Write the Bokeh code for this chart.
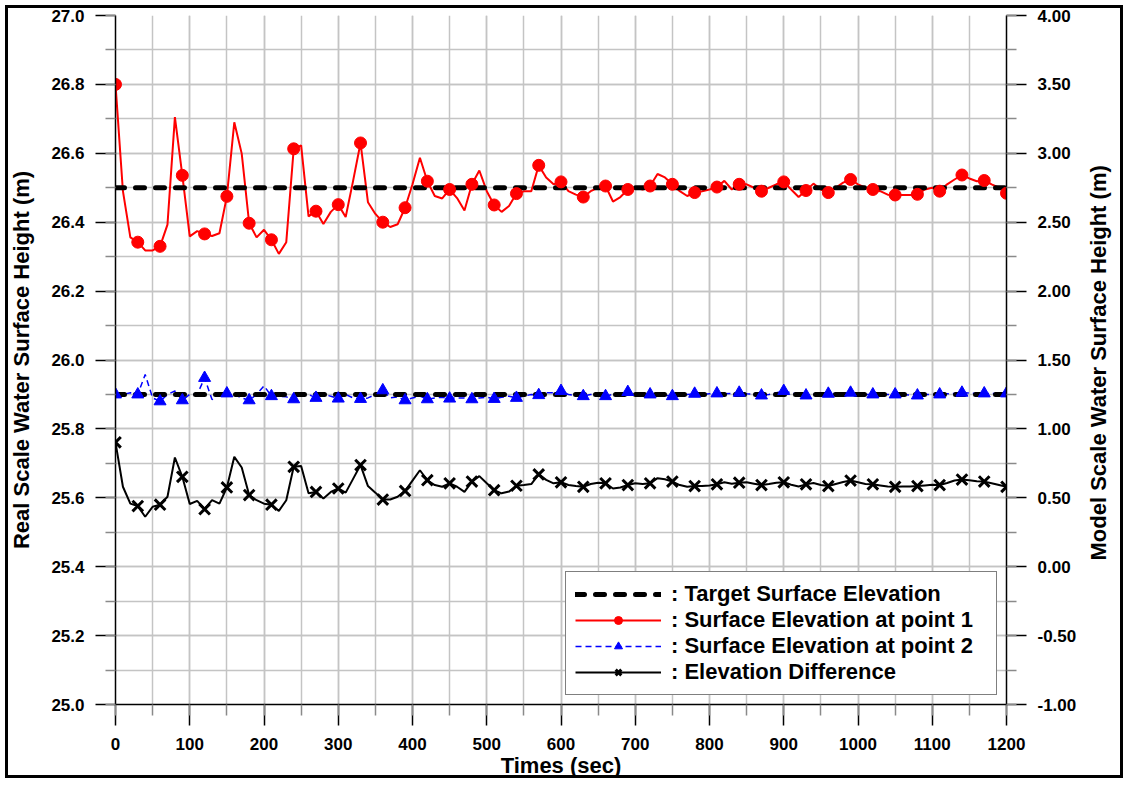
from math import pi

from bokeh.embed import file_html
from bokeh.models import (FixedTicker, Legend, LegendItem, LinearAxis, NumeralTickFormatter,
                          Range1d, SingleIntervalTicker)
from bokeh.plotting import figure
from bokeh.resources import INLINE

# Sampling every 10 s, symbols every 30 s
times = list(range(0, 1201, 10))
marker_step = 3

# Real-scale surface elevation at point 1 (m)
point1 = [
    26.800, 26.490, 26.356, 26.342, 26.318, 26.318, 26.330, 26.393, 26.705, 26.536,
    26.359, 26.374, 26.366, 26.360, 26.368, 26.475, 26.690, 26.599, 26.397, 26.356,
    26.378, 26.349, 26.308, 26.342, 26.613, 26.623, 26.417, 26.432, 26.395, 26.430,
    26.451, 26.415, 26.520, 26.630, 26.458, 26.424, 26.400, 26.386, 26.394, 26.442,
    26.510, 26.587, 26.519, 26.476, 26.469, 26.495, 26.470, 26.434, 26.510, 26.550,
    26.490, 26.450, 26.430, 26.447, 26.483, 26.490, 26.490, 26.565, 26.530, 26.510,
    26.517, 26.490, 26.480, 26.473, 26.490, 26.500, 26.505, 26.460, 26.473, 26.495,
    26.500, 26.495, 26.505, 26.540, 26.530, 26.510, 26.490, 26.476, 26.486, 26.490,
    26.495, 26.502, 26.520, 26.495, 26.510, 26.510, 26.500, 26.490, 26.500, 26.510,
    26.517, 26.495, 26.473, 26.492, 26.512, 26.495, 26.486, 26.500, 26.515, 26.524,
    26.510, 26.500, 26.495, 26.490, 26.480, 26.479, 26.479, 26.479, 26.481, 26.495,
    26.500, 26.490, 26.510, 26.524, 26.537, 26.527, 26.519, 26.521, 26.510, 26.500,
    26.484,
]

# Real-scale surface elevation at point 2 (m)
point2 = [
    25.900, 25.900, 25.905, 25.900, 25.958, 25.890, 25.880, 25.900, 25.910, 25.883,
    25.900, 25.900, 25.948, 25.885, 25.905, 25.903, 25.900, 25.890, 25.883, 25.900,
    25.925, 25.895, 25.895, 25.893, 25.886, 25.900, 25.900, 25.890, 25.900, 25.895,
    25.888, 25.900, 25.890, 25.887, 25.890, 25.900, 25.912, 25.890, 25.893, 25.883,
    25.890, 25.895, 25.886, 25.890, 25.892, 25.888, 25.890, 25.890, 25.886, 25.890,
    25.892, 25.887, 25.892, 25.895, 25.890, 25.895, 25.900, 25.898, 25.905, 25.905,
    25.910, 25.900, 25.897, 25.895, 25.900, 25.900, 25.895, 25.900, 25.905, 25.907,
    25.902, 25.900, 25.900, 25.900, 25.898, 25.895, 25.898, 25.900, 25.902, 25.900,
    25.902, 25.903, 25.902, 25.903, 25.905, 25.902, 25.900, 25.897, 25.900, 25.905,
    25.910, 25.905, 25.900, 25.897, 25.900, 25.902, 25.902, 25.903, 25.905, 25.905,
    25.903, 25.900, 25.900, 25.900, 25.900, 25.900, 25.900, 25.898, 25.897, 25.900,
    25.900, 25.900, 25.902, 25.903, 25.905, 25.904, 25.903, 25.903, 25.903, 25.903,
    25.903,
]

# Elevation difference series (m)
difference = [
    25.761, 25.632, 25.583, 25.576, 25.545, 25.574, 25.580, 25.603, 25.717, 25.661,
    25.582, 25.591, 25.567, 25.593, 25.583, 25.630, 25.719, 25.688, 25.608, 25.593,
    25.583, 25.580, 25.562, 25.593, 25.690, 25.692, 25.613, 25.617, 25.598, 25.617,
    25.627, 25.615, 25.655, 25.695, 25.634, 25.615, 25.595, 25.595, 25.603, 25.620,
    25.650, 25.680, 25.651, 25.637, 25.632, 25.642, 25.632, 25.617, 25.647, 25.663,
    25.642, 25.622, 25.613, 25.618, 25.635, 25.637, 25.640, 25.668, 25.652, 25.642,
    25.645, 25.637, 25.634, 25.632, 25.640, 25.644, 25.642, 25.627, 25.630, 25.637,
    25.642, 25.640, 25.642, 25.657, 25.654, 25.647, 25.637, 25.632, 25.634, 25.634,
    25.636, 25.639, 25.645, 25.641, 25.644, 25.645, 25.641, 25.637, 25.640, 25.644,
    25.645, 25.638, 25.633, 25.639, 25.643, 25.637, 25.634, 25.640, 25.646, 25.650,
    25.645, 25.640, 25.639, 25.636, 25.633, 25.632, 25.633, 25.633, 25.634, 25.636,
    25.638, 25.637, 25.643, 25.650, 25.653, 25.651, 25.648, 25.647, 25.642, 25.637,
    25.632,
]

# Target surface elevations
target_times = [0, 1200]
target_point1 = 26.5
target_point2 = 25.9

legend_labels = [
    ": Target Surface Elevation",
    ": Surface Elevation at point 1",
    ": Surface Elevation at point 2",
    ": Elevation Difference",
]

FONT = "Liberation Sans"
GRID = "#c4c4c4"

p = figure(
    width=1128, height=783,
    x_range=Range1d(0, 1200), y_range=Range1d(25.0, 27.0),
    output_backend="svg", toolbar_location=None,
    min_border_left=115, min_border_right=122, min_border_top=15, min_border_bottom=79,
    background_fill_color="white", border_fill_color=None,
)
p.outline_line_color = None
# heavy frame around the whole chart
p.styles = {"outline": "3px solid black", "outline-offset": "-8px"}

# left axis: real scale
p.yaxis.ticker = SingleIntervalTicker(interval=0.2, num_minor_ticks=2)
p.yaxis.formatter = NumeralTickFormatter(format="0.0")
p.yaxis.axis_label = "Real Scale Water Surface Height (m)"
# bottom axis: time
p.xaxis.ticker = SingleIntervalTicker(interval=100, num_minor_ticks=2)
p.xaxis.axis_label = "Times (sec)"

# right axis: model scale
p.extra_y_ranges = {"model": Range1d(-1.0, 4.0)}
right_axis = LinearAxis(
    y_range_name="model",
    ticker=SingleIntervalTicker(interval=0.5, num_minor_ticks=2),
    formatter=NumeralTickFormatter(format="0.00"),
)
p.add_layout(right_axis, "right")

for ax in [p.xaxis[0], p.yaxis[0], right_axis]:
    ax.axis_line_color = "black"
    ax.axis_line_width = 1.5
    ax.major_tick_line_color = "black"
    ax.major_tick_line_width = 1.5
    ax.major_tick_in = 0
    ax.major_tick_out = 20
    ax.minor_tick_line_color = "#8a8a8a"
    ax.minor_tick_line_width = 1.5
    ax.minor_tick_in = 0
    ax.minor_tick_out = 10
    ax.major_label_text_font = FONT
    ax.major_label_text_font_style = "bold"
    ax.major_label_text_font_size = "17px"
    ax.major_label_text_color = "black"
    ax.major_label_standoff = 11
    ax.axis_label_text_font = FONT
    ax.axis_label_text_font_style = "bold"
    ax.axis_label_text_font_size = "22px"
    ax.axis_label_text_color = "black"
    ax.axis_label_standoff = 14
p.xaxis.major_tick_out = 21
p.xaxis.minor_tick_out = 11
p.xaxis.major_label_standoff = 12
p.xaxis.axis_label_standoff = 0

# right-hand title, written bottom-to-top, set as a single rotated label
title_anchor = 0.045
model_title = "Model Scale Water Surface Height (m)"
title_axis = LinearAxis(
    y_range_name="model",
    ticker=FixedTicker(ticks=[title_anchor], minor_ticks=[]),
    major_label_overrides={title_anchor: model_title},
    major_label_orientation=pi / 2,
    axis_line_color=None,
    major_tick_line_color=None,
    minor_tick_line_color=None,
    major_tick_out=0,
    major_tick_in=0,
    major_label_standoff=19,
    major_label_text_font=FONT,
    major_label_text_font_style="bold",
    major_label_text_font_size="22px",
    major_label_text_color="black",
)
p.add_layout(title_axis, "right")

for g in [p.xgrid[0], p.ygrid[0]]:
    g.grid_line_color = GRID
    g.grid_line_width = 1.5
    g.minor_grid_line_color = GRID
    g.minor_grid_line_width = 1.5

# series lines
red_line = p.line(times, point1, line_color="#ff0000", line_width=2)
blue_line = p.line(times, point2, line_color="#0000ff", line_width=1.5, line_dash="6 4")
black_line = p.line(times, difference, line_color="black", line_width=2)

# target elevations
tgt1 = p.line(target_times, [target_point1] * len(target_times), line_color="black",
              line_width=5, line_dash="9 11", line_cap="round")
tgt2 = p.line(target_times, [target_point2] * len(target_times), line_color="black",
              line_width=5, line_dash="9 11", line_cap="round")

# symbols every 30 s
red_pts = p.scatter(times[::marker_step], point1[::marker_step], marker="circle", size=12,
                    fill_color="#ff0000", line_color="#ff0000")
blue_pts = p.scatter(times[::marker_step], point2[::marker_step], marker="triangle", size=12,
                     fill_color="#0000ff", line_color="#0000ff")
black_pts = p.scatter(times[::marker_step], difference[::marker_step], marker="x", size=15,
                      line_color="black", line_width=3)

legend = Legend(
    items=[
        LegendItem(label=legend_labels[0], renderers=[tgt1]),
        LegendItem(label=legend_labels[1], renderers=[red_line, red_pts]),
        LegendItem(label=legend_labels[2], renderers=[blue_line, blue_pts]),
        LegendItem(label=legend_labels[3], renderers=[black_line, black_pts]),
    ],
    location=(450, 9),
    label_text_font=FONT,
    label_text_font_style="bold",
    label_text_font_size="22px",
    label_text_color="black",
    glyph_width=86,
    glyph_height=20,
    label_height=20,
    label_standoff=10,
    label_width=316,
    spacing=-3,
    padding=9,
    margin=0,
    border_line_color="black",
    border_line_width=1,
    background_fill_color="white",
    background_fill_alpha=1.0,
)
p.add_layout(legend, "center")

open("out.html", "w").write(file_html(p, INLINE))
